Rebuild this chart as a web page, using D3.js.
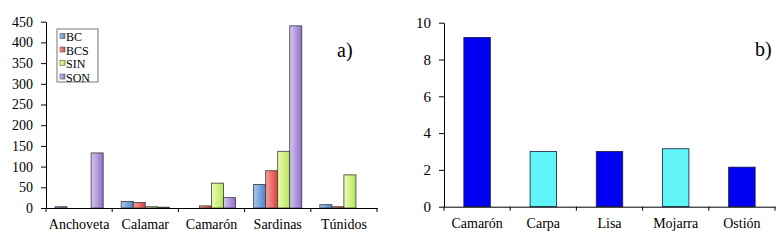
<!DOCTYPE html>
<html>
<head>
<meta charset="utf-8">
<script src="https://cdn.jsdelivr.net/npm/d3@7"></script>
<style>
    body { margin: 0; background: #fff; }
    .axis path, .axis line { stroke: #000; }
</style>
</head>
<body>
<div class="charts"></div>
<script>
//Data for chart a)
var speciesA = ["Anchoveta", "Calamar", "Camarón", "Sardinas", "Túnidos"];
var states = ["BC", "BCS", "SIN", "SON"];
var valuesBC = [3, 16, 0, 57, 8];
var valuesBCS = [0, 13, 5, 90, 3];
var valuesSIN = [0, 3, 60, 137, 80];
var valuesSON = [133, 2, 25, 440, 0];
var ticksA = [0, 50, 100, 150, 200, 250, 300, 350, 400, 450];

//Data for chart b)
var speciesB = ["Camarón", "Carpa", "Lisa", "Mojarra", "Ostión"];
var valuesB = [9.2, 3.0, 3.0, 3.15, 2.15];
var ticksB = [0, 2, 4, 6, 8, 10];

var serif = "'Liberation Serif', 'Times New Roman', 'DejaVu Serif', serif";

//Width and height
var w = 784;
var h = 241;

var svg = d3.select(".charts")
    .append("svg")
    .attr("width", w)
    .attr("height", h)
    .style("font-family", serif);

//Gradients like the old Office bars
var gradColors = {
    BC: ["#a9c6ee", "#4f81c9"],
    BCS: ["#f7a09c", "#d9413c"],
    SIN: ["#effcb4", "#b5e65a"],
    SON: ["#d6c8f0", "#8f6fc8"]
};
var defs = svg.append("defs");
states.forEach(function (s) {
    var g = defs.append("linearGradient")
        .attr("id", "grad" + s)
        .attr("x1", "0%").attr("x2", "100%")
        .attr("y1", "0%").attr("y2", "0%");
    g.append("stop").attr("offset", "0%").attr("stop-color", gradColors[s][0]);
    g.append("stop").attr("offset", "100%").attr("stop-color", gradColors[s][1]);
});

// ---------- chart a) ----------
var tableA = speciesA.map(function (sp, i) {
    return { species: sp, values: [valuesBC[i], valuesBCS[i], valuesSIN[i], valuesSON[i]] };
});

var xA = d3.scaleBand()
    .domain(speciesA)
    .range([46, 377]);

var xA1 = d3.scaleBand()
    .domain(states)
    .range([0, xA.bandwidth()])
    .paddingOuter(0.75);

var yA = d3.scaleLinear()
    .domain([0, 450])
    .range([208, 21.7]);

var groups = svg.selectAll("g.group")
    .data(tableA)
    .enter()
    .append("g")
    .attr("class", "group")
    .attr("transform", (d) => "translate(" + xA(d.species) + ",0)");

groups.selectAll("rect")
    .data((d) => d.values.map((v, i) => ({ state: states[i], value: v })))
    .enter()
    .append("rect")
    .attr("x", (d) => xA1(d.state))
    .attr("y", (d) => yA(d.value))
    .attr("width", xA1.bandwidth())
    .attr("height", (d) => yA(0) - yA(d.value))
    .attr("fill", (d) => "url(#grad" + d.state + ")")
    .attr("stroke", (d) => d.value > 0 ? "#3a3a3a" : "none")
    .attr("stroke-width", 0.8);

//Axes
svg.append("g")
    .attr("class", "axis")
    .attr("transform", "translate(46,0)")
    .call(d3.axisLeft(yA).tickValues(ticksA).tickSize(5).tickSizeOuter(0).tickPadding(8))
    .call((g) => g.attr("font-family", serif).attr("font-size", 14));

svg.append("g")
    .attr("class", "axis")
    .attr("transform", "translate(0,208)")
    .call(d3.axisBottom(xA).tickSize(0).tickSizeOuter(0).tickPadding(11))
    .call((g) => g.attr("font-family", serif).attr("font-size", 14));

svg.append("g")
    .selectAll("line")
    .data(speciesA.map((d) => xA(d)).concat([xA.range()[1]]))
    .enter()
    .append("line")
    .attr("x1", (d) => d).attr("x2", (d) => d)
    .attr("y1", 208).attr("y2", 212)
    .attr("stroke", "#000");

//Legend
var legend = svg.append("g").attr("transform", "translate(57,29)");
legend.append("rect")
    .attr("width", 41).attr("height", 53)
    .attr("fill", "#fff").attr("stroke", "#555").attr("stroke-width", 0.8);
var items = legend.selectAll("g.item")
    .data(states)
    .enter()
    .append("g")
    .attr("class", "item")
    .attr("transform", (d, i) => "translate(3," + (8 + i * 13.5) + ")");
items.append("rect")
    .attr("x", 0).attr("y", -3.5)
    .attr("width", 5).attr("height", 5)
    .attr("fill", (d) => "url(#grad" + d + ")")
    .attr("stroke", "#555").attr("stroke-width", 0.6);
items.append("text")
    .attr("x", 6).attr("y", 4)
    .style("font-size", "12px")
    .text((d) => d);

svg.append("text")
    .attr("x", 337).attr("y", 57)
    .style("font-size", "20px")
    .text("a)");

// ---------- chart b) ----------
var barColors = ["#0000f2", "#5ff4f8", "#0000f2", "#5ff4f8", "#0000f2"];

var xB = d3.scaleBand()
    .domain(speciesB)
    .range([444, 775]);

var yB = d3.scaleLinear()
    .domain([0, 10])
    .range([206.7, 22.7]);

svg.selectAll("rect.barB")
    .data(valuesB)
    .enter()
    .append("rect")
    .attr("class", "barB")
    .attr("x", (d, i) => xB(speciesB[i]) + xB.bandwidth() * 0.3)
    .attr("y", (d) => yB(d))
    .attr("width", xB.bandwidth() * 0.4)
    .attr("height", (d) => yB(0) - yB(d))
    .attr("fill", (d, i) => barColors[i])
    .attr("stroke", "#1a1a40")
    .attr("stroke-width", 0.8);

svg.append("g")
    .attr("class", "axis")
    .attr("transform", "translate(444,0)")
    .call(d3.axisLeft(yB).tickValues(ticksB).tickSize(5).tickSizeOuter(0).tickPadding(8))
    .call((g) => g.attr("font-family", serif).attr("font-size", 15));

svg.append("g")
    .attr("class", "axis")
    .attr("transform", "translate(0,206.7)")
    .call(d3.axisBottom(xB).tickSize(0).tickSizeOuter(0).tickPadding(11))
    .call((g) => g.attr("font-family", serif).attr("font-size", 14));

svg.append("g")
    .selectAll("line")
    .data(speciesB.map((d) => xB(d)).concat([xB.range()[1]]))
    .enter()
    .append("line")
    .attr("x1", (d) => d).attr("x2", (d) => d)
    .attr("y1", 206.7).attr("y2", 210.7)
    .attr("stroke", "#000");

svg.append("text")
    .attr("x", 755).attr("y", 56)
    .style("font-size", "20px")
    .text("b)");
</script>
</body>
</html>
